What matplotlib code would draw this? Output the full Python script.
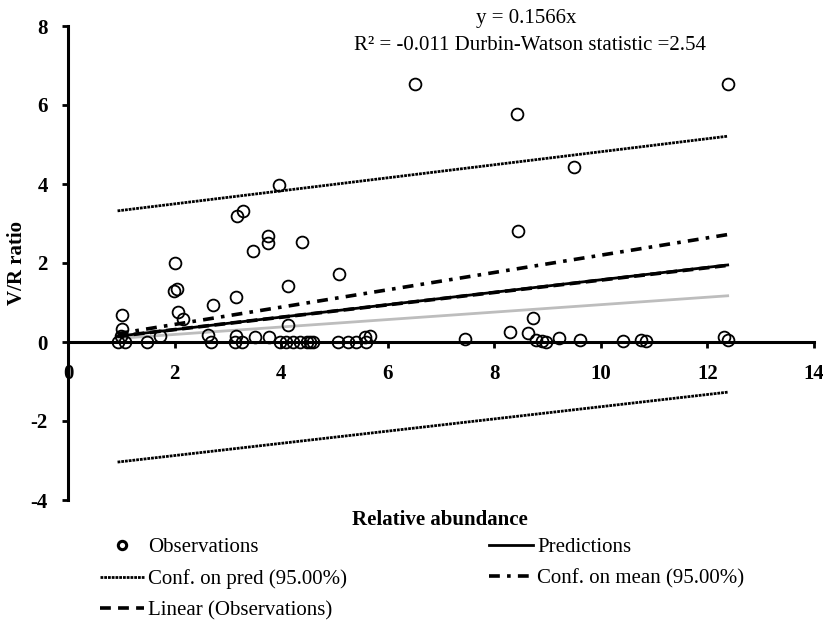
import numpy as np
import matplotlib
matplotlib.use("Agg")
import matplotlib.pyplot as plt
from matplotlib.lines import Line2D

plt.rcParams['font.family'] = ['Liberation Serif', 'DejaVu Serif']
plt.rcParams['axes.unicode_minus'] = False

# observations (relative abundance, V/R ratio)
obs_x = [6.51, 12.38, 8.42, 9.49, 8.45, 3.96, 3.18, 3.28, 3.76, 3.76, 4.40, 3.47,
         2.01, 5.09, 4.12, 1.98, 2.04, 3.16, 2.73, 1.01, 2.07, 2.15, 1.01, 4.13,
         0.99, 1.73, 2.63, 3.16, 3.51, 3.78, 5.67, 5.57,
         0.93, 1.07, 1.48, 2.68, 3.13, 3.26, 3.98, 4.10, 4.23, 4.35, 4.48, 4.60,
         4.54, 5.07, 5.26, 5.41, 5.60,
         8.73, 8.29, 8.64, 7.45, 8.79, 8.89, 8.97, 9.22, 9.61, 10.41, 10.76,
         10.84, 12.31, 12.38]
obs_y = [6.53, 6.53, 5.77, 4.42, 2.82, 3.97, 3.18, 3.32, 2.68, 2.51, 2.54, 2.30,
         2.00, 1.72, 1.41, 1.30, 1.34, 1.13, 0.94, 0.68, 0.77, 0.57, 0.33, 0.43,
         0.16, 0.14, 0.18, 0.16, 0.12, 0.12, 0.16, 0.12,
         0.0, 0.0, 0.0, 0.0, 0.0, 0.0, 0.0, 0.0, 0.0, 0.0, 0.0, 0.0,
         0.0, 0.0, 0.0, 0.0, 0.0,
         0.62, 0.26, 0.23, 0.08, 0.05, 0.03, 0.0, 0.10, 0.06, 0.03, 0.04,
         0.03, 0.12, 0.05]

# fitted lines (end points)
line_x = [0.93, 12.38]
pred_y = [0.146, 1.95]
linear_y = [0.146, 1.94]
mean_hi = [0.21, 2.72]
mean_lo = [0.09, 1.17]
pred_hi = [3.32, 5.21]
pred_lo = [-3.04, -1.27]

W, H = 823, 620
fig = plt.figure(figsize=(W / 100, H / 100), dpi=100)
ax = fig.add_axes([68 / W, 1 - 500 / H, (814 - 68) / W, (500 - 26) / H])

dense = (0, (1.0, 0.35))
ax.plot(line_x, pred_hi, color='black', lw=2, ls=dense)
ax.plot(line_x, pred_lo, color='black', lw=2, ls=dense)
ax.plot(line_x, mean_lo, color='#bdbdbd', lw=2)
ax.plot(line_x, mean_hi, color='black', lw=2.6, ls=(0, (3, 2, 1, 2)))
ax.plot(line_x, pred_y, color='black', lw=2)
ax.plot(line_x, linear_y, color='black', lw=2.6, ls=(0, (3, 1.5)))
ax.plot(obs_x, obs_y, 'o', mfc='none', mec='black', ms=8.5, mew=1.3, clip_on=False)

ax.set_xlim(0, 14)
ax.set_ylim(-4, 8)
ax.set_xticks(np.arange(0, 15, 2))
ax.set_yticks(np.arange(-4, 9, 2))
ax.spines['top'].set_visible(False)
ax.spines['right'].set_visible(False)
ax.spines['bottom'].set_position(('data', 0))
ax.spines['left'].set_linewidth(2.2)
ax.spines['bottom'].set_linewidth(2.2)
ax.tick_params(direction='out', length=4.5, width=2, labelsize=15)
ax.tick_params(axis='x', pad=11)
ax.tick_params(axis='y', pad=10)
for lab in ax.get_xticklabels() + ax.get_yticklabels():
    lab.set_fontweight('bold')

fig.text(17 / W, 1 - 263 / H, 'V/R ratio', fontsize=15, fontweight='bold',
         rotation=90, ha='center', va='center')
fig.text(440 / W, 1 - 520 / H, 'Relative abundance', fontsize=15,
         fontweight='bold', ha='center', va='center')
fig.text(526 / W, 1 - 18 / H, 'y = 0.1566x', fontsize=15, ha='center', va='center')
fig.text(530 / W, 1 - 45 / H, 'R² = -0.011 Durbin-Watson statistic =2.54',
         fontsize=15, ha='center', va='center')

handles = [
    Line2D([], [], ls='none', marker='o', mfc='none', mec='black', ms=6, mew=2.2),
    Line2D([], [], color='black', lw=2, ls=dense),
    Line2D([], [], color='black', lw=2.6, ls=(0, (3, 2))),
    Line2D([], [], color='black', lw=2),
    Line2D([], [], color='black', lw=2.6, ls=(0, (3, 2, 1, 2))),
]
labels = ['Observations', 'Conf. on pred (95.00%)', 'Linear (Observations)',
          'Predictions', 'Conf. on mean (95.00%)']
fig.legend(handles, labels, ncol=2, loc='upper left',
           bbox_to_anchor=(90 / W, 1 - 527 / H), frameon=False, fontsize=15,
           handlelength=2.1, handletextpad=0.2, columnspacing=6.8,
           labelspacing=0.58, borderpad=0)

fig.savefig('out.png', dpi=100)
